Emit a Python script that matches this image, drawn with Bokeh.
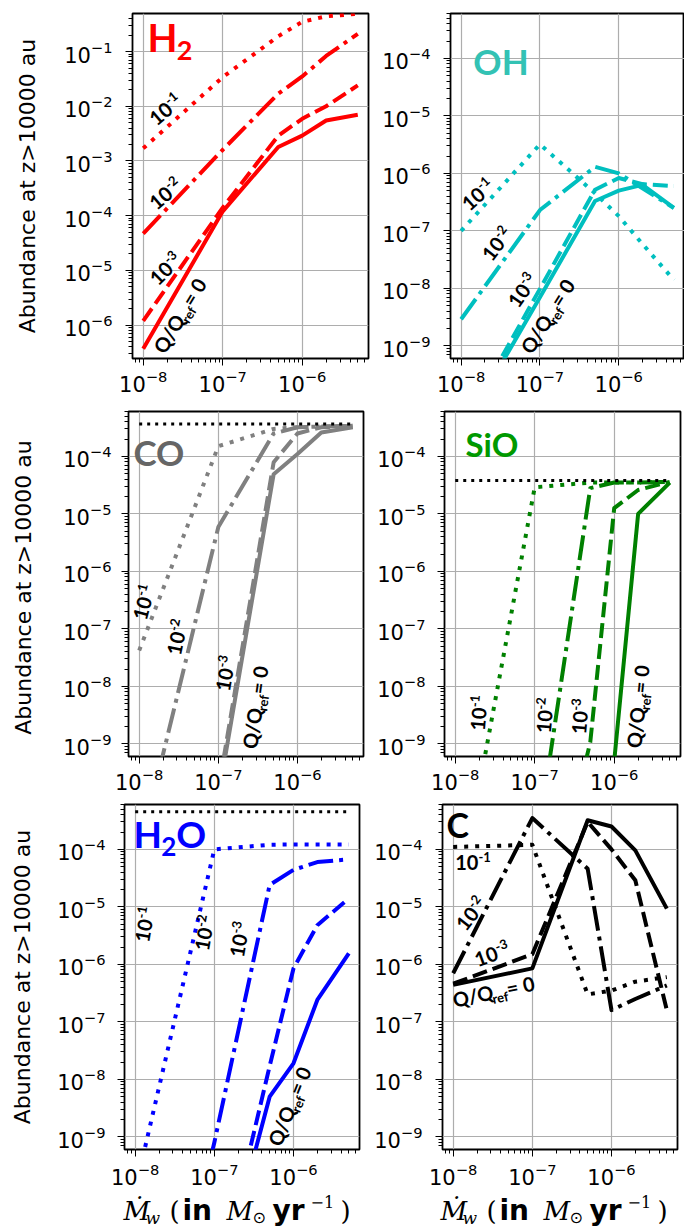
import math
from bokeh.plotting import figure
from bokeh.layouts import column, row
from bokeh.models import Range1d, FixedTicker
from bokeh.core.properties import value
from bokeh.embed import file_html
from bokeh.resources import INLINE

# Wind mass-loss rate (Msun/yr)
mdot = [1e-8, 1e-7, 5e-7, 1e-6, 2e-6, 5e-6]

# Abundances at z > 10000 au for each Q/Qref (0, 1e-3, 1e-2, 1e-1)
h2_q0 = [3.7e-7, 1.2e-4, 1.8e-3, 2.9e-3, 5.5e-3, 7.0e-3]
h2_q3 = [1.2e-6, 1.4e-4, 2.9e-3, 5.9e-3, 1.0e-2, 2.4e-2]
h2_q2 = [4.7e-5, 1.6e-3, 1.7e-2, 3.5e-2, 8.3e-2, 0.21]
h2_q1 = [1.7e-3, 3.4e-2, 0.19, 0.35, 0.44, 0.49]

oh_q0 = [3e-11, 7e-9, 3.3e-7, 5e-7, 6.3e-7, 2.5e-7]
oh_q3 = [3.5e-11, 9.8e-9, 5.2e-7, 8.3e-7, 6.5e-7, 6e-7]
oh_q2 = [2.9e-9, 2.3e-7, 1.3e-6, 1.0e-6, 5.5e-7, 2.5e-7]
oh_q1 = [1.0e-7, 3.2e-6, 4.5e-7, 1.8e-7, 5.9e-8, 1.4e-8]

co_q0 = [1e-13, 1.2e-10, 4.9e-5, 1.1e-4, 2.6e-4, 3.2e-4]
co_q3 = [1e-13, 1.6e-10, 7.9e-5, 2.5e-4, 3.2e-4, 3.4e-4]
co_q2 = [1.3e-11, 5.9e-6, 2.5e-4, 3.2e-4, 3.3e-4, 3.4e-4]
co_q1 = [4.2e-8, 1.5e-4, 3.0e-4, 3.2e-4, 3.3e-4, 3.4e-4]
co_init = 3.65e-4

sio_q0 = [1e-14, 1e-13, 1e-12, 5e-10, 1.0e-5, 3.5e-5]
sio_q3 = [1e-14, 1e-13, 1.07e-9, 1.26e-5, 2.6e-5, 3.6e-5]
sio_q2 = [1e-14, 1e-11, 2.8e-5, 3.5e-5, 3.5e-5, 3.6e-5]
sio_q1 = [1e-12, 2.9e-5, 3.5e-5, 3.5e-5, 3.5e-5, 3.6e-5]
sio_init = 3.8e-5

h2o_q0 = [1e-15, 1.2e-12, 5e-9, 1.9e-8, 2.4e-7, 1.55e-6]
h2o_q3 = [1e-15, 1.5e-12, 1.7e-8, 8.5e-7, 4.8e-6, 1.4e-5]
h2o_q2 = [1e-15, 8e-10, 2.4e-5, 4.4e-5, 6.0e-5, 6.7e-5]
h2o_q1 = [1.2e-10, 1.0e-4, 1.2e-4, 1.22e-4, 1.22e-4, 1.22e-4]
h2o_init = 4.5e-4

c_q0 = [4.4e-7, 8.5e-7, 3.2e-4, 2.5e-4, 9.6e-5, 9.3e-6]
c_q3 = [4.6e-7, 1.5e-6, 3.0e-4, 1.0e-4, 2.9e-5, 1.6e-7]
c_q2 = [7e-7, 3.5e-4, 4.6e-5, 1.6e-7, 2.5e-7, 4.3e-7]
c_q1 = [1.1e-4, 1.2e-4, 3.0e-7, 3.5e-7, 5e-7, 6e-7]

YLABEL = "Abundance at z>10000 au"
LABEL_FONT = "Lato"

DASH = {"q0": "solid", "q3": "15 6", "q2": "25 6 4 6", "q1": "4 7"}

# approximate advance widths (em) for the label font
ADV = {'0': .58, '1': .58, '2': .58, '3': .58, '-': .37, 'Q': .79, '/': .37,
       'r': .38, 'e': .53, 'f': .33, ' ': .30, '=': .58, 'H': .75, 'O': .80,
       'C': .67, 'S': .52, 'i': .26}


def text_width(t, size):
    return sum(ADV.get(c, .58) for c in t) * size


def rich_text(p, lx, ly, parts, angle_deg, color="black", centered=True):
    """Draw a run of text pieces (with super/subscripts) along a rotated baseline.
    The anchor is the vertical middle of the main-size text."""
    th = math.radians(angle_deg)
    total = sum(text_width(t, s) for t, s, _ in parts)
    main = parts[0][1]
    along = -total / 2 if centered else 0.0
    for t, s, shift in parts:
        perp = shift + 0.36 * (s - main)
        ox = along * math.cos(th) - perp * math.sin(th)
        oy = -(along * math.sin(th) + perp * math.cos(th))
        p.text(x=[10 ** lx], y=[10 ** ly], text=[t], x_offset=ox, y_offset=oy,
               angle=th, text_font=value(LABEL_FONT), text_font_style="bold",
               text_font_size=f"{s}px", text_color=color, text_align="left",
               text_baseline="middle")
        along += text_width(t, s)


def q_label(k):
    return [("10", 20, 0), (f"-{k}", 13, 8)]


Q0_LABEL = [("Q/Q", 20, 0), ("ref", 13, -5), (" = 0", 20, 0)]


def decades(lo, hi):
    return [10.0 ** e for e in range(lo, hi + 1)]


def minors(lo, hi):
    return [k * 10.0 ** e for e in range(lo, hi + 1) for k in range(2, 10)]


def panel(width, height, bl, br, bt, bb, ylo, yhi, ydec, ystand, ylab=None, ylab_stand=18, xstand=4):
    p = figure(width=width, height=height, x_axis_type="log", y_axis_type="log",
               x_range=Range1d(10 ** -8.135, 10 ** -5.166),
               y_range=Range1d(10 ** ylo, 10 ** yhi),
               min_border_left=bl, min_border_right=br, min_border_top=bt,
               min_border_bottom=bb, output_backend="svg", toolbar_location=None,
               background_fill_color="white", border_fill_color="white")
    p.outline_line_color = "black"
    p.outline_line_width = 1.8
    p.xaxis.ticker = FixedTicker(ticks=decades(-8, -6), minor_ticks=minors(-9, -6))
    p.yaxis.ticker = FixedTicker(ticks=decades(*ydec), minor_ticks=minors(ydec[0] - 1, ydec[1]))
    for ax in (p.xaxis, p.yaxis):
        ax.axis_line_color = None
        ax.major_tick_in = 0
        ax.major_tick_out = 7
        ax.minor_tick_in = 0
        ax.minor_tick_out = 4
        ax.major_tick_line_color = "black"
        ax.minor_tick_line_color = "black"
        ax.major_label_text_font = "DejaVu Sans"
        ax.major_label_text_font_size = "21px"
        ax.major_label_text_color = "black"
    p.xaxis.major_label_standoff = xstand
    p.yaxis.major_label_standoff = ystand
    if ylab:
        p.yaxis.axis_label = ylab
        p.yaxis.axis_label_text_font = "DejaVu Sans"
        p.yaxis.axis_label_text_font_size = "22px"
        p.yaxis.axis_label_text_font_style = "normal"
        p.yaxis.axis_label_text_color = "black"
        p.yaxis.axis_label_standoff = ylab_stand
    p.grid.grid_line_color = "#adadad"
    p.grid.grid_line_width = 1.2
    return p


def curves(p, color, series):
    for key, ys in series:
        p.line(mdot, ys, line_color=color, line_width=4, line_dash=DASH[key],
               line_join="round")


def init_line(p, level):
    p.line([mdot[0], mdot[-1]], [level, level], line_color="black", line_width=3,
           line_dash="3 5")


def mdot_title(p, x0, yc):
    # (text, x advance from start, size, font, style, vertical shift)
    pieces = [("Ṁ", 0, 26, "DejaVu Serif", "italic", 0),
              ("w", 22, 17, "DejaVu Serif", "italic", -7),
              ("(", 46, 26, "DejaVu Serif", "normal", 0),
              ("in", 59, 28, "DejaVu Sans", "bold", 0),
              ("M", 103, 26, "DejaVu Serif", "italic", 0),
              ("⊙", 129, 16, "DejaVu Sans", "normal", -7),
              ("yr", 149, 28, "DejaVu Sans", "bold", 0),
              ("−1", 187, 16, "DejaVu Serif", "normal", 9),
              (")", 217, 26, "DejaVu Serif", "normal", 0)]
    for t, dx, size, font, style, dy in pieces:
        p.text(x=[x0 + dx], y=[yc + dy], text=[t], text_font=value(font),
               text_font_style=style, text_font_size=f"{size}px", text_color="black",
               text_align="left", text_baseline="middle")


# ---- H2 ----
p_h2 = panel(370, 402, 132, 2, 13, 44, -6.61, -0.305, (-6, -1), 13, YLABEL, 21)
curves(p_h2, "#ff0000", [("q0", h2_q0), ("q3", h2_q3), ("q2", h2_q2), ("q1", h2_q1)])
rich_text(p_h2, -7.946, -0.73, [("H", 39, 0), ("2", 27, -9)], 0, "#ff0000", centered=False)
rich_text(p_h2, -7.72, -2.06, q_label(1), 40)
rich_text(p_h2, -7.72, -3.60, q_label(2), 40)
rich_text(p_h2, -7.72, -4.97, q_label(3), 45)
rich_text(p_h2, -7.52, -5.77, Q0_LABEL, 59)

# ---- OH ----
p_oh = panel(314, 402, 80, 0, 13, 44, -9.22, -3.22, (-9, -4), 13)
curves(p_oh, "#00bfbf", [("q0", oh_q0), ("q3", oh_q3), ("q2", oh_q2), ("q1", oh_q1)])
rich_text(p_oh, -7.845, -4.04, [("OH", 35, 0)], 0, "#33c2b4", centered=False)
rich_text(p_oh, -7.788, -6.368, q_label(1), 42)
rich_text(p_oh, -7.545, -7.225, q_label(2), 52)
rich_text(p_oh, -7.22, -8.037, q_label(3), 55)
rich_text(p_oh, -6.882, -8.43, Q0_LABEL, 58)

# ---- CO ----
p_co = panel(365, 394, 128, 2, 9, 40, -9.22, -3.22, (-9, -4), 10, "Abundance at  z>10000 au", 24)
curves(p_co, "#808080", [("q0", co_q0), ("q3", co_q3), ("q2", co_q2), ("q1", co_q1)])
init_line(p_co, co_init)
rich_text(p_co, -8.072, -3.92, [("CO", 35, 0)], 0, "#666666", centered=False)
rich_text(p_co, -7.942, -6.537, q_label(1), 75)
rich_text(p_co, -7.52, -7.145, q_label(2), 78)
rich_text(p_co, -6.91, -7.777, q_label(3), 80)
rich_text(p_co, -6.532, -8.304, Q0_LABEL, 82)

# ---- SiO ----
p_sio = panel(319, 394, 79, 4, 9, 40, -9.22, -3.22, (-9, -4), 12)
curves(p_sio, "#008000", [("q0", sio_q0), ("q3", sio_q3), ("q2", sio_q2), ("q1", sio_q1)])
init_line(p_sio, sio_init)
rich_text(p_sio, -7.87, -3.78, [("SiO", 33, 0)], 0, "#009900", centered=False)
rich_text(p_sio, -7.702, -8.463, q_label(1), 85)
rich_text(p_sio, -6.872, -8.507, q_label(2), 85)
rich_text(p_sio, -6.43, -8.524, q_label(3), 85)
rich_text(p_sio, -5.702, -8.29, Q0_LABEL, 84)

# ---- H2O ----
p_h2o = panel(361, 395, 124, 2, 8, 42, -9.22, -3.22, (-9, -4), 12, YLABEL, 19, xstand=6)
curves(p_h2o, "#0000ff", [("q0", h2o_q0), ("q3", h2o_q3), ("q2", h2o_q2), ("q1", h2o_q1)])
init_line(p_h2o, h2o_init)
rich_text(p_h2o, -8.021, -3.73, [("H", 37, 0), ("2", 26, -9), ("O", 37, 0)], 0, "#0000ff", centered=False)
rich_text(p_h2o, -7.879, -5.307, q_label(1), 80)
rich_text(p_h2o, -7.125, -5.455, q_label(2), 80)
rich_text(p_h2o, -6.683, -5.568, q_label(3), 80)
rich_text(p_h2o, -6.039, -8.411, Q0_LABEL, 68)

# ---- C ----
p_c = panel(323, 395, 81, 7, 8, 42, -9.22, -3.22, (-9, -4), 13, xstand=6)
curves(p_c, "#000000", [("q0", c_q0), ("q3", c_q3), ("q2", c_q2), ("q1", c_q1)])
rich_text(p_c, -8.084, -3.56, [("C", 34, 0)], 0, "#000000", centered=False)
rich_text(p_c, -7.75, -4.22, q_label(1), 0)
rich_text(p_c, -7.773, -5.12, q_label(2), 52)
rich_text(p_c, -7.51, -5.82, q_label(3), 20)
rich_text(p_c, -7.447, -6.455, Q0_LABEL, 12)

# ---- shared x-axis titles under the bottom row ----
strip = figure(width=684, height=36, x_range=Range1d(0, 684), y_range=Range1d(0, 36),
               min_border_left=0, min_border_right=0, min_border_top=0, min_border_bottom=0,
               x_axis_location=None, y_axis_location=None, output_backend="svg",
               toolbar_location=None, background_fill_color="white",
               border_fill_color="white")
strip.outline_line_color = None
strip.grid.visible = False
mdot_title(strip, 123, 17.0)
mdot_title(strip, 440, 17.0)

layout = column(row(p_h2, p_oh), row(p_co, p_sio), row(p_h2o, p_c), strip)
open("out.html", "w").write(file_html(layout, INLINE))
